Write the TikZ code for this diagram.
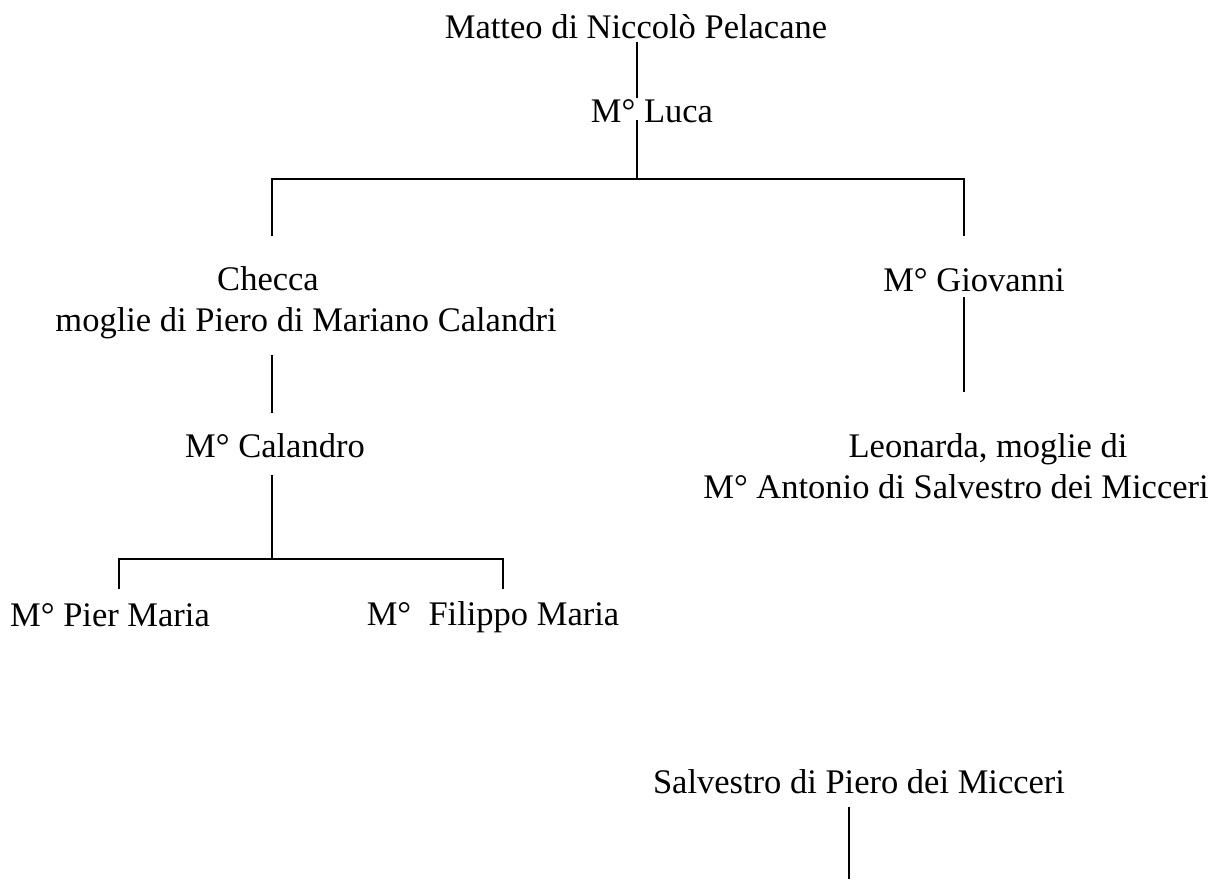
\documentclass[tikz,border=0pt]{standalone}
\usepackage{fontspec}
\setmainfont{Liberation Serif}
\newcommand\persfont{\fontsize{34.5}{41}\selectfont}
\tikzset{pers/.style={font=\persfont, inner sep=0pt, anchor=base}}
\begin{document}
\begin{tikzpicture}[x=1pt,y=-1pt]
      \useasboundingbox (0,0) rectangle (1217,879);
      \node[pers] (matteo) at (636,38) {Matteo di Niccolò Pelacane};
      \node[pers] (luca) at (652,122) {M° Luca};
      \node[pers] (checca) at (268,290) {Checca};
      \node[pers] (checcab) at (306,331) {moglie di Piero di Mariano Calandri};
      \node[pers] (giovanni) at (974,291) {M° Giovanni};
      \node[pers] (calandro) at (275,457) {M° Calandro};
      \node[pers] (leonarda) at (988,457) {Leonarda, moglie di};
      \node[pers] (leonardab) at (956,498) {M° Antonio di Salvestro dei Micceri};
      \node[pers] (piermaria) at (110,626) {M° Pier Maria};
      \node[pers] (filippo) at (493,625) {M°~~Filippo Maria};
      \node[pers] (salvestro) at (859,793) {Salvestro di Piero dei Micceri};
      % fork points
      \coordinate (fork1) at (637,179);
      \coordinate (fork1l) at (272,179);
      \coordinate (fork1r) at (964,179);
      \coordinate (fork2) at (272,559);
      \coordinate (fork2l) at (119,559);
      \coordinate (fork2r) at (503,559);
      \coordinate (bottom) at (849,879);
      \begin{scope}[-, line width=1.2pt]
        \draw ([yshift=-4pt]matteo.base -| fork1) to ([yshift=24pt]luca.base -| fork1);
        \draw ([yshift=2pt]luca.base -| fork1) to (fork1);
        \draw ([yshift=54pt]checca.base -| fork1l) -- (fork1l) -- (fork1r) -- ([yshift=55pt]giovanni.base -| fork1r);
        \draw ([yshift=-24pt]checcab.base -| fork1l) to ([yshift=44pt]calandro.base -| fork1l);
        \draw ([yshift=-6pt]giovanni.base -| fork1r) to ([yshift=65pt]leonarda.base -| fork1r);
        \draw ([yshift=-18pt]calandro.base -| fork2) to (fork2);
        \draw ([yshift=37pt]piermaria.base -| fork2l) -- (fork2l) -- (fork2r) -- ([yshift=36pt]filippo.base -| fork2r);
        \draw ([yshift=-14pt]salvestro.base -| bottom) to (bottom);
      \end{scope}
    \end{tikzpicture}
\end{document}
